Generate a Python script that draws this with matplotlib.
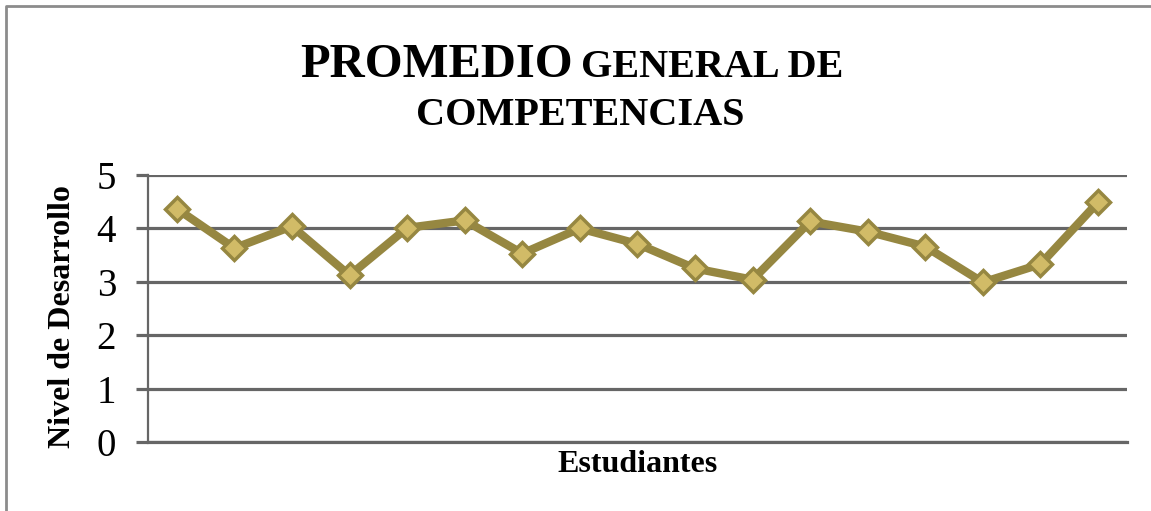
import matplotlib.pyplot as plt
from matplotlib.lines import Line2D

# data
students = list(range(1, 18))
scores = [4.37, 3.63, 4.04, 3.12, 4.01, 4.15, 3.53, 4.00, 3.71,
          3.25, 3.04, 4.13, 3.94, 3.66, 2.99, 3.33, 4.49]
yticks = [0, 1, 2, 3, 4, 5]

plt.rcParams['font.family'] = ['Liberation Serif', 'DejaVu Serif']

fig = plt.figure(figsize=(11.51, 5.11), dpi=100)
ax = fig.add_axes([0.1286, 0.135, 0.979 - 0.1286, 0.5225])

grid_col = '#666666'
ax.plot(students, scores, color='#968741', lw=6, marker='D',
        markersize=12, markerfacecolor='#d1bb67', markeredgecolor='#968741',
        markeredgewidth=2.5, zorder=3, clip_on=False)

ax.set_xlim(0.5, 17.5)
ax.set_ylim(0, 5)
ax.set_yticks(yticks)
ax.set_yticklabels([str(t) for t in yticks], fontsize=28)
ax.set_xticks([])
ax.yaxis.grid(True, color=grid_col, lw=2.3)
ax.set_axisbelow(True)
ax.tick_params(axis='y', length=9, width=2.3, color=grid_col, pad=14)

for side in ['top', 'right']:
    ax.spines[side].set_visible(False)
ax.spines['left'].set_color(grid_col)
ax.spines['left'].set_linewidth(1.6)
ax.spines['bottom'].set_color(grid_col)
ax.spines['bottom'].set_linewidth(2.3)

ax.set_ylabel('Nivel de Desarrollo', fontsize=23, fontweight='bold')
ax.yaxis.set_label_coords(-0.073, 0.47)
ax.set_xlabel('Estudiantes', fontsize=23, fontweight='bold', labelpad=6)

# title with mixed sizes
fig.text(0.498, 1 - 77 / 511, 'PROMEDIO', fontsize=35, fontweight='bold',
         ha='right', va='baseline')
fig.text(0.505, 1 - 77 / 511, 'GENERAL DE', fontsize=29, fontweight='bold',
         ha='left', va='baseline')
fig.text(0.504, 1 - 125 / 511, 'COMPETENCIAS', fontsize=29, fontweight='bold',
         ha='center', va='baseline')

# chart frame (left and top edges visible)
x0 = 6 / 1151
y1 = 1 - 6 / 511
fig.add_artist(Line2D([x0, x0, 1], [0, y1, y1], color='#8c8c8c', lw=2,
                      transform=fig.transFigure))

fig.savefig('out.png', dpi=100)
